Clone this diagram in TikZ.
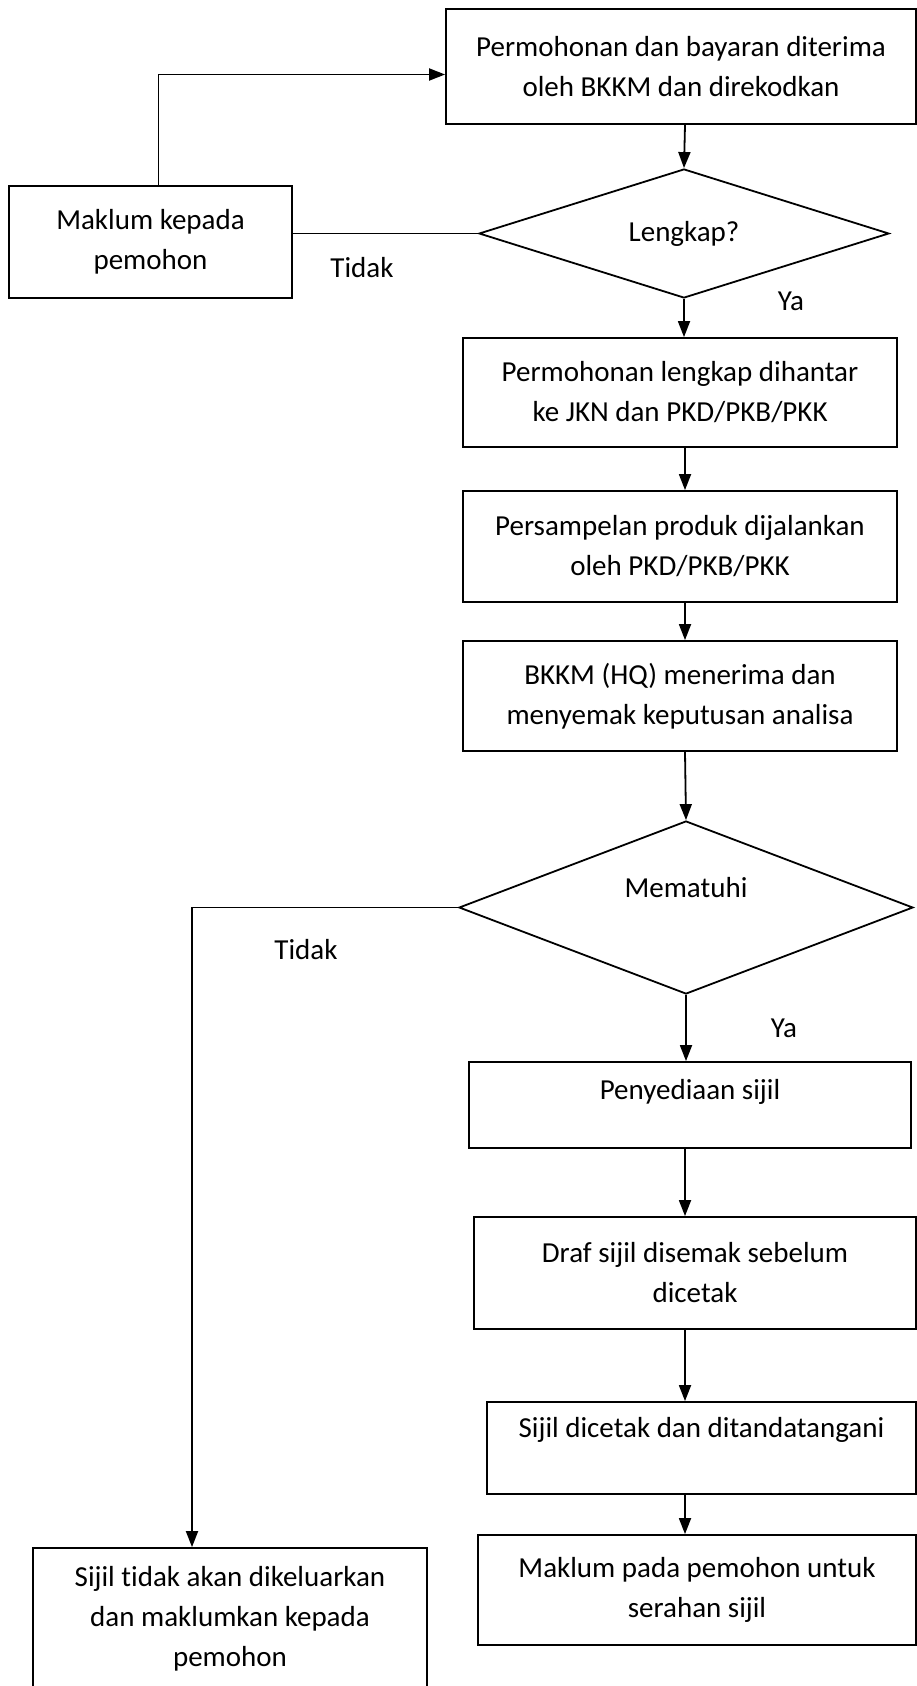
\documentclass[tikz,border=0pt]{standalone}
\usepackage{fontspec}
\setmainfont{Carlito}[Ligatures=NoCommon]
\usetikzlibrary{shapes.geometric,arrows.meta}
\tikzset{
  kotak/.style={draw,rectangle,line width=1.8pt,align=center,inner sep=0pt},
  simpul/.style={draw,diamond,line width=1.8pt,inner sep=0pt,aspect=2.6},
  panah/.style={line width=1.8pt,-{Triangle[width=12pt,length=16pt]}},
  garis/.style={line width=1.8pt},
}
\begin{document}
\begin{tikzpicture}[x=1pt,y=-1pt,font=\fontsize{29}{40}\selectfont]
\useasboundingbox (0,0) rectangle (917,1686);
% lajur kanan
\node[kotak,minimum width=470pt,minimum height=115pt] (terima) at (681,66.5) {Permohonan dan bayaran diterima\\oleh BKKM dan direkodkan};
\node[simpul,minimum width=410pt,minimum height=129pt] (lengkap) at (684,233.5) {Lengkap?};
\node[kotak,minimum width=434pt,minimum height=109pt] (hantar) at (680,392.5) {Permohonan lengkap dihantar\\ke JKN dan PKD/PKB/PKK};
\node[kotak,minimum width=434pt,minimum height=111pt] (sampel) at (680,546.5) {Persampelan produk dijalankan\\oleh PKD/PKB/PKK};
\node[kotak,minimum width=434pt,minimum height=110pt] (semak) at (680,696) {BKKM (HQ) menerima dan\\menyemak keputusan analisa};
\node[simpul,minimum width=454pt,minimum height=173pt,text depth=41pt] (patuh) at (686,907.5) {Mematuhi};
\node[kotak,minimum width=442pt,minimum height=86pt,text depth=31pt] (sedia) at (690,1105) {Penyediaan sijil};
\node[kotak,minimum width=442pt,minimum height=112pt] (draf) at (695,1273) {Draf sijil disemak sebelum\\dicetak};
\node[kotak,minimum width=429pt,minimum height=92pt,text depth=41pt] (cetak) at (701.5,1448) {Sijil dicetak dan ditandatangani};
\node[kotak,minimum width=438pt,minimum height=110pt] (maklumb) at (697,1590) {Maklum pada pemohon untuk\\serahan sijil};
% lajur kiri
\node[kotak,minimum width=283pt,minimum height=112pt] (maklum) at (150.5,242) {Maklum kepada\\pemohon};
\node[kotak,minimum width=394pt,minimum height=142pt] (tolak) at (230,1619) {Sijil tidak akan dikeluarkan\\dan maklumkan kepada\\pemohon};
% label cabang
\node (tidaka) at (362,268) {Tidak};
\node (yaa) at (791,301) {Ya};
\node (tidakb) at (306,950) {Tidak};
\node (yab) at (784,1028) {Ya};
% anak panah
\coordinate (paksi) at (685,0);
\draw[panah] (terima.south -| paksi) -- (lengkap.north);
\draw[panah] (lengkap.south) -- (hantar.north -| lengkap.south);
\draw[panah] (hantar.south -| paksi) -- (sampel.north -| paksi);
\draw[panah] (sampel.south -| paksi) -- (semak.north -| paksi);
\draw[panah] (semak.south -| paksi) -- (patuh.north);
\draw[panah] (patuh.south) -- (sedia.north -| patuh.south);
\draw[panah] (sedia.south -| paksi) -- (draf.north -| paksi);
\draw[panah] (draf.south -| paksi) -- (cetak.north -| paksi);
\draw[panah] (cetak.south -| paksi) -- (maklumb.north -| paksi);
\draw[panah] ([xshift=8pt]maklum.north) |- ([yshift=-8pt]terima.west);
\draw[garis] (lengkap.west) -- (lengkap.west -| maklum.east);
\coordinate (belok) at (192,907.5);
\draw[panah] (patuh.west) -- (belok) -- (belok |- tolak.north);
\end{tikzpicture}
\end{document}
